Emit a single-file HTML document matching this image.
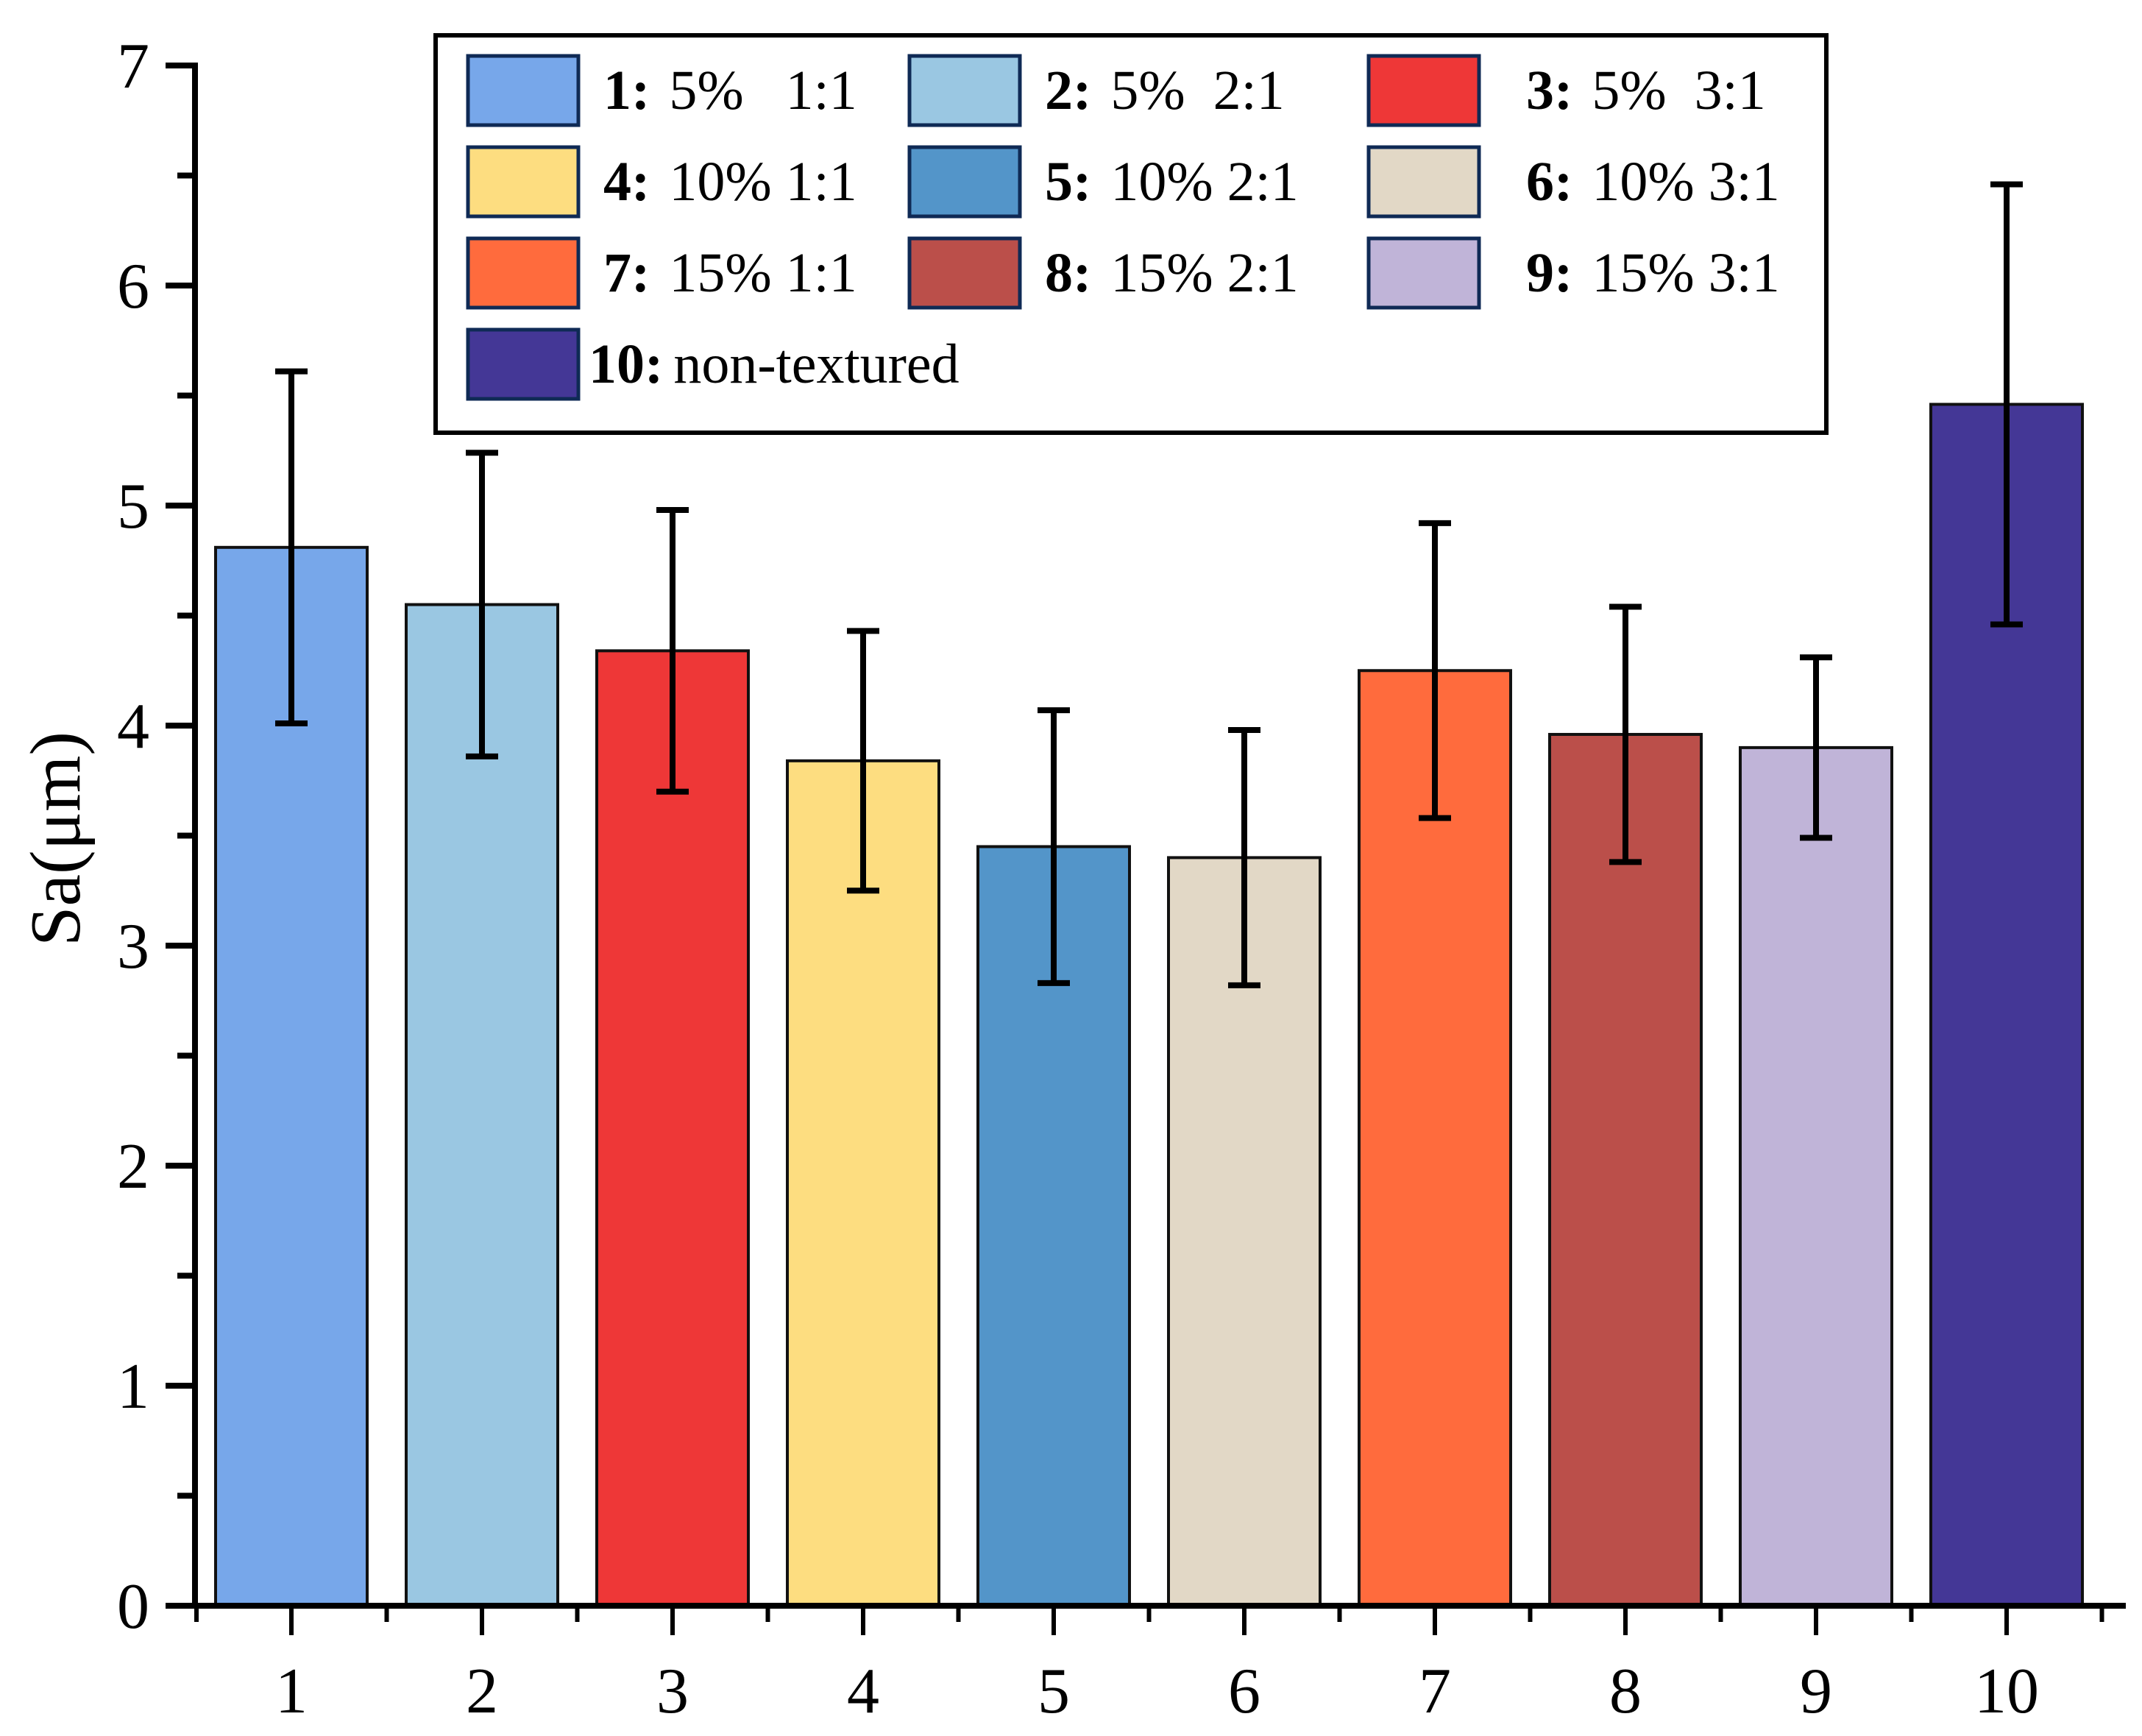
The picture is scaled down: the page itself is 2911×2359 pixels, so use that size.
<!DOCTYPE html>
<html><head><meta charset="utf-8"><style>
html,body{margin:0;padding:0;background:#fff;}
svg{display:block;font-family:"Liberation Serif",serif;}
</style></head><body>
<svg id="chart" width="2911" height="2359" viewBox="0 0 2911 2359" xmlns="http://www.w3.org/2000/svg">
<g id="bars"></g>
<g id="axes"></g>
<g id="legend"></g>
</svg>
<script>
const categories = ["1","2","3","4","5","6","7","8","9","10"];
const values = [4.81, 4.55, 4.34, 3.84, 3.45, 3.40, 4.25, 3.96, 3.90, 5.46];
const errors = [0.80, 0.69, 0.64, 0.59, 0.62, 0.58, 0.67, 0.58, 0.41, 1.00];
const colors = ["#77a7ea","#9ac7e2","#ee3737","#fddd80","#5395c9","#e2d8c6","#ff6b3d","#bb4f4a","#c0b4d8","#443796"];
const yTicks = [0,1,2,3,4,5,6,7];
const legendNums = ["1:","2:","3:","4:","5:","6:","7:","8:","9:","10:"];
const legendTexts = ["5%\u00a0\u00a0 1:1","5%\u00a0 2:1","5%\u00a0 3:1","10% 1:1","10% 2:1","10% 3:1","15% 1:1","15% 2:1","15% 3:1","non-textured"];

const NS="http://www.w3.org/2000/svg";
const X0=265, Y0=2182, UNIT=299, C1=396, STEP=259, BW=206;
const yS=v=>Y0-v*UNIT;
const xS=i=>C1+i*STEP;
function mk(tag,attrs,parent){const e=document.createElementNS(NS,tag);for(const k in attrs)e.setAttribute(k,attrs[k]);parent.appendChild(e);return e;}
const bars=document.getElementById('bars'),axes=document.getElementById('axes'),legend=document.getElementById('legend');

values.forEach((v,i)=>{
  const r=mk('rect',{x:xS(i)-BW/2,y:yS(v),width:BW,height:Y0-yS(v),fill:colors[i],stroke:'#111','stroke-width':4},bars);
  
  
  const g=mk('g',{stroke:'#000','stroke-width':8},bars);
  
  
  const hi=yS(v+errors[i]),lo=yS(v-errors[i]),cx=xS(i);
  mk('line',{x1:cx,x2:cx,y1:hi,y2:lo},g);
  mk('line',{x1:cx-22,x2:cx+22,y1:hi,y2:hi},g);
  mk('line',{x1:cx-22,x2:cx+22,y1:lo,y2:lo},g);
});

const ya=mk('line',{x1:X0,x2:X0,y1:yS(7)-4,y2:Y0+4,stroke:'#000','stroke-width':8},axes);

const xa=mk('line',{x1:X0-40,x2:2889,y1:Y0,y2:Y0,stroke:'#000','stroke-width':8},axes);

yTicks.forEach(t=>{
  mk('line',{x1:X0-40,x2:X0,y1:yS(t),y2:yS(t),stroke:'#000','stroke-width':8},axes);
  if(t<7) mk('line',{x1:X0-24,x2:X0,y1:yS(t+0.5),y2:yS(t+0.5),stroke:'#000','stroke-width':8},axes);
  const tx=mk('text',{x:X0-62,y:yS(t)+30,'font-size':88,'text-anchor':'end',fill:'#000'},axes);
  tx.textContent=t;
  
});
categories.forEach((c,i)=>{
  mk('line',{x1:xS(i),x2:xS(i),y1:Y0,y2:Y0+40,stroke:'#000','stroke-width':6},axes);
  mk('line',{x1:xS(i)+STEP/2,x2:xS(i)+STEP/2,y1:Y0,y2:Y0+22,stroke:'#000','stroke-width':6},axes);
  const tx=mk('text',{x:xS(i),y:Y0+145,'font-size':88,'text-anchor':'middle',fill:'#000'},axes);
  tx.textContent=c;
  
});
mk('line',{x1:X0+2,x2:X0+2,y1:Y0,y2:Y0+22,stroke:'#000','stroke-width':6},axes);
const yt=mk('text',{x:0,y:0,'font-size':98,'text-anchor':'middle',fill:'#000',transform:'translate(108,1140) rotate(-90)'},axes);
yt.textContent='Sa(μm)';


const lb=mk('rect',{x:592,y:48,width:1890,height:540,fill:'#fff',stroke:'#000','stroke-width':6},legend);

const colX=[636,1236,1860], numX=[820,1420,2074];
legendNums.forEach((n,i)=>{
  const col=i%3,row=Math.floor(i/3);
  const y=76+row*124;
  const g=mk('g',{},legend);
  
  mk('rect',{x:colX[col],y:y,width:150,height:94,fill:colors[i],stroke:'#0f2a55','stroke-width':5},g);
  const t=mk('text',{x:i===9?800:numX[col],y:y+72,'font-size':76,fill:'#000'},g);
  const b=mk('tspan',{'font-weight':'bold'},t);b.textContent=n;
  const s=mk('tspan',{dx:i===9?14:26},t);s.textContent=legendTexts[i];
});
</script>
</body></html>
